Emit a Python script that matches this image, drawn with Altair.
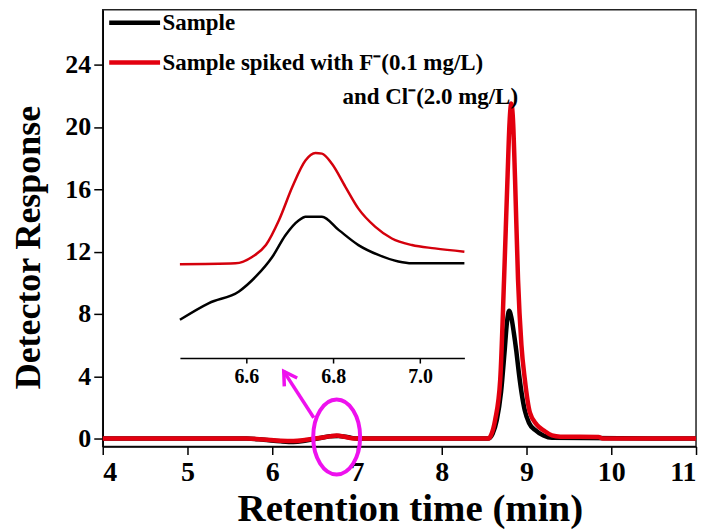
import altair as alt
import pandas as pd

# ---------------- data ----------------
black_t = [4.0, 5.7, 5.9, 6.1, 6.25, 6.4, 6.55, 6.68, 6.78, 6.9, 7.0, 8.55, 8.6, 8.65, 8.7,
           8.74, 8.77, 8.795, 8.82, 8.85, 8.88, 8.91, 8.94, 8.98, 9.03, 9.1, 9.2, 9.3, 11.0]
black_v = [0, 0, -0.08, -0.18, -0.22, -0.12, 0.02, 0.15, 0.17, 0.08, 0, 0, 0.3, 1.2, 3.0,
           5.5, 7.5, 8.2, 7.8, 6.8, 5.6, 4.2, 3.0, 1.8, 1.0, 0.55, 0.2, 0.05, 0]

red_t = [4.0, 5.7, 5.9, 6.1, 6.25, 6.4, 6.55, 6.68, 6.76, 6.85, 6.97, 8.55, 8.58, 8.63, 8.69,
         8.735, 8.775, 8.80, 8.82, 8.84, 8.865, 8.90, 8.94, 8.98, 9.04, 9.12, 9.21, 9.3, 9.4,
         9.85, 9.9, 11.0]
red_v = [0, 0, -0.06, -0.14, -0.16, -0.08, 0.03, 0.14, 0.2, 0.12, 0, 0, 0.2, 1.2, 3.8,
         10.2, 16.6, 20.3, 21.5, 20.5, 16.6, 10.2, 6.0, 3.8, 1.66, 0.9, 0.5, 0.2, 0.12,
         0.1, 0.0, 0]

# inset (zoom of 6.45-7.1 min), relative response
inset_black_t = [6.447, 6.514, 6.583, 6.622, 6.660, 6.690, 6.721, 6.736, 6.774, 6.813,
                 6.858, 6.904, 6.950, 6.981, 7.102]
inset_black_v = [-0.189, -0.133, -0.094, -0.044, 0.022, 0.094, 0.144, 0.156, 0.156, 0.111,
                 0.061, 0.028, 0.006, 0.0, 0.0]
inset_red_t = [6.447, 6.575, 6.614, 6.645, 6.675, 6.706, 6.736, 6.759, 6.774, 6.797,
               6.828, 6.858, 6.897, 6.935, 6.981, 7.034, 7.102]
inset_red_v = [-0.003, 0.0, 0.022, 0.061, 0.144, 0.256, 0.344, 0.369, 0.367, 0.333,
               0.256, 0.183, 0.122, 0.083, 0.061, 0.050, 0.039]

series_names = ["Sample", "Sample spiked with F\u207b(0.1 mg/L)"]
series_colors = ["#000000", "#E3000F"]
legend_extra = ["and Cl\u207b(2.0  mg/L)"]

x_ticks = [4, 5, 6, 7, 8, 9, 10, 11]
y_ticks = [0, 4, 8, 12, 16, 20, 24]
inset_ticks = [6.6, 6.8, 7.0]

# annotation anchors in data units
ellipse_at = {"t": [6.76], "v": [0.1]}
arrow_from = {"t": [6.49], "v": [1.34]}
arrow_to = {"t": [6.136], "v": [4.31]}
extra_at = {"t": [8.90], "v": [21.9]}

# ---------------- styling ----------------
FONT = "Liberation Serif"
MAGENTA = "#EE11EE"

df_black = pd.DataFrame({"t": black_t, "v": black_v, "series": series_names[0]})
df_red = pd.DataFrame({"t": red_t, "v": red_v, "series": series_names[1]})
df_ib = pd.DataFrame({"t": inset_black_t, "v": inset_black_v})
df_ir = pd.DataFrame({"t": inset_red_t, "v": inset_red_v})

xs = alt.Scale(domain=[4, 11], nice=False, zero=False)
ys = alt.Scale(domain=[-0.51, 27.52], nice=False, zero=False)
cs = alt.Scale(domain=series_names, range=series_colors)

x_axis = alt.Axis(values=x_ticks, format="d", grid=False, labelFontSize=28, titleFontSize=39,
                  tickSize=8, labelPadding=4, titleX=308, titleY=74,
                  titleBaseline="alphabetic")
y_axis = alt.Axis(values=y_ticks, format="d", grid=False, labelFontSize=26, titleFontSize=36,
                  tickSize=9, labelPadding=3, titleX=-74, titleY=238,
                  titleBaseline="middle")

legend = alt.Legend(title=None, orient="none", legendX=4, legendY=-15,
                    symbolType="stroke", symbolSize=2601, symbolStrokeWidth=4.5,
                    labelFont=FONT, labelFontSize=23, labelFontWeight="bold",
                    labelColor="black", labelOffset=0, rowPadding=-4, padding=0,
                    labelLimit=600)

enc_x = alt.X("t:Q", scale=xs, axis=x_axis, title="Retention time (min)")
enc_y = alt.Y("v:Q", scale=ys, axis=y_axis, title="Detector Response")
enc_c = alt.Color("series:N", scale=cs, legend=legend)

black_line = alt.Chart(df_black).mark_line(strokeWidth=4.5, interpolate="monotone").encode(
    x=enc_x, y=enc_y, color=enc_c)
red_line = alt.Chart(df_red).mark_line(strokeWidth=4.5, interpolate="monotone").encode(
    x=enc_x, y=enc_y, color=enc_c)

extra_text = alt.Chart(pd.DataFrame({**extra_at, "label": legend_extra})).mark_text(
    align="right", baseline="middle", font=FONT, fontSize=23, fontWeight="bold",
    color="black").encode(x=alt.X("t:Q", scale=xs), y=alt.Y("v:Q", scale=ys), text="label:N")

k = 0.5523
a = 0.627
ka = k * a
ELLIPSE = (f"M 0,-1 C {ka},-1 {a},{-k} {a},0 C {a},{k} {ka},1 0,1 "
           f"C {-ka},1 {-a},{k} {-a},0 C {-a},{-k} {-ka},-1 0,-1 Z")
CHEVRON = "M -0.6,1 L 0,0 L 0.6,1"

ellipse = alt.Chart(pd.DataFrame(ellipse_at)).mark_point(
    shape=ELLIPSE, size=5625, filled=False, color=MAGENTA, strokeWidth=4, opacity=1
).encode(x=alt.X("t:Q", scale=xs), y=alt.Y("v:Q", scale=ys))

arrow_df = pd.DataFrame({"t": arrow_from["t"], "v": arrow_from["v"],
                         "t2": arrow_to["t"], "v2": arrow_to["v"]})
arrow = alt.Chart(arrow_df).mark_rule(color=MAGENTA, strokeWidth=3.5).encode(
    x=alt.X("t:Q", scale=xs), y=alt.Y("v:Q", scale=ys), x2="t2:Q", y2="v2:Q")
arrow_head = alt.Chart(pd.DataFrame(arrow_to)).mark_point(
    shape=CHEVRON, size=660, filled=False, color=MAGENTA, strokeWidth=3.5, opacity=1,
    angle=327).encode(x=alt.X("t:Q", scale=xs), y=alt.Y("v:Q", scale=ys))

main = alt.layer(black_line, red_line, extra_text, ellipse, arrow, arrow_head)

ixs = alt.Scale(domain=[6.447, 7.102], range=[77.4, 362.7], nice=False, zero=False)
iys = alt.Scale(domain=[-0.317, 0.478], range=[349.3, 111], nice=False, zero=False)
i_axis = alt.Axis(orient="bottom", offset=-88.7, values=inset_ticks, format=".1f",
                  grid=False, labelFontSize=20, tickSize=5, labelPadding=4, title=None)

inset_black = alt.Chart(df_ib).mark_line(color="black", strokeWidth=2.5,
                                         interpolate="monotone").encode(
    x=alt.X("t:Q", scale=ixs, axis=i_axis), y=alt.Y("v:Q", scale=iys, axis=None))
inset_red = alt.Chart(df_ir).mark_line(color="#D4000C", strokeWidth=2.5,
                                       interpolate="monotone").encode(
    x=alt.X("t:Q", scale=ixs, axis=i_axis), y=alt.Y("v:Q", scale=iys, axis=None))
inset = alt.layer(inset_black, inset_red)

chart = alt.layer(main, inset).resolve_scale(x="independent", y="independent").properties(
    width=595, height=438,
    autosize=alt.AutoSizeParams(type="none"),
    padding={"left": 95, "top": 1, "right": 10, "bottom": 92},
).configure_axis(
    labelFont=FONT, titleFont=FONT, labelFontWeight="bold", titleFontWeight="bold",
    labelColor="black", titleColor="black", domainColor="black", tickColor="black",
    domainWidth=1.5, tickWidth=1.5,
).configure_view(stroke="#222222", strokeWidth=1.5)

chart.save("out.html", embed_options={"renderer": "svg", "actions": False})
